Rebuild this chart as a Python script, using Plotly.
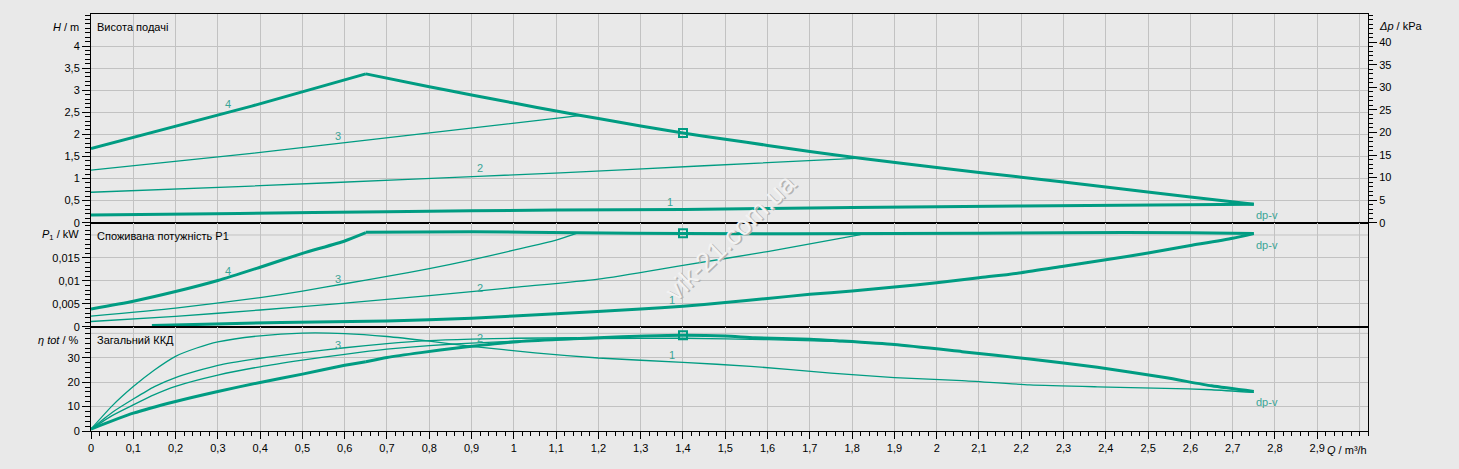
import plotly.graph_objects as go

# ---------------- data ----------------
# Top panel: head H [m] vs flow Q [m3/h]
Q_H1 = [0, 0.35, 0.7, 1.1, 1.4, 1.8, 2.2, 2.75]
H_1 = [0.175, 0.21, 0.25, 0.285, 0.30, 0.345, 0.38, 0.42]
Q_H2 = [0, 0.38, 0.75, 1.11, 1.45, 1.82]
H_2 = [0.69, 0.83, 0.98, 1.13, 1.29, 1.46]
Q_H3 = [0, 0.38, 0.77, 1.16]
H_3 = [1.19, 1.57, 2.0, 2.43]
Q_H4 = [0, 0.38, 0.65]
H_4 = [1.68, 2.64, 3.37]
Q_Hmax = [0.65, 0.8, 0.9, 1.0, 1.11, 1.2, 1.3, 1.4, 1.5, 1.6, 1.7, 1.82, 2.0, 2.2, 2.4, 2.6, 2.75]
H_max = [3.37, 3.08, 2.89, 2.71, 2.51, 2.36, 2.19, 2.03, 1.89, 1.75, 1.61, 1.46, 1.25, 1.03, 0.81, 0.58, 0.42]

# Middle panel: power input P1 [kW]
Q_P1 = [0.144, 0.45, 0.7, 0.9, 1.1, 1.3, 1.4, 1.5, 1.6, 1.7, 1.8, 1.9, 2.0, 2.1, 2.2, 2.3, 2.4, 2.5, 2.6, 2.7, 2.75]
P_1 = [0.0003, 0.0010, 0.0013, 0.0019, 0.0029, 0.0039, 0.0045, 0.0053, 0.0062, 0.0071, 0.0078, 0.0087, 0.0096,
       0.0107, 0.0118, 0.0132, 0.0146, 0.0161, 0.0177, 0.0193, 0.0203]
Q_P2 = [0, 0.2, 0.4, 0.6, 0.8, 1.0, 1.2, 1.4, 1.6, 1.82]
P_2 = [0.0012, 0.0023, 0.0037, 0.0052, 0.0068, 0.0086, 0.0104, 0.0134, 0.0164, 0.0201]
Q_P3 = [0, 0.2, 0.4, 0.5, 0.6, 0.7, 0.8, 0.9, 1.0, 1.1, 1.15]
P_3 = [0.00235, 0.0041, 0.0064, 0.0078, 0.0094, 0.0110, 0.0127, 0.0146, 0.0167, 0.0189, 0.0204]
Q_P4 = [0, 0.1, 0.2, 0.3, 0.4, 0.5, 0.6, 0.65]
P_4 = [0.0039, 0.0056, 0.0077, 0.0101, 0.0130, 0.0160, 0.0187, 0.0205]
Q_Pmax = [0.65, 0.9, 1.15, 1.4, 1.9, 2.3, 2.6, 2.75]
P_max = [0.0206, 0.0207, 0.0205, 0.0203, 0.0203, 0.0205, 0.0205, 0.0203]

# Bottom panel: total efficiency [%]
Q_E1 = [0, 0.05, 0.1, 0.15, 0.2, 0.25, 0.3, 0.4, 0.5, 0.6, 0.7, 0.8, 0.9, 1.05, 1.2, 1.4, 1.56, 1.75, 1.9,
        2.06, 2.22, 2.38, 2.54, 2.65, 2.75]
E_1 = [0.8, 10.3, 18.2, 25.0, 30.6, 34.0, 36.5, 39.0, 40.1, 39.9, 38.7, 36.8, 34.7, 32.0, 29.9, 28.1, 26.5,
       23.7, 21.9, 20.6, 18.9, 18.1, 17.5, 16.9, 15.8]
Q_E2 = [0, 0.05, 0.1, 0.15, 0.2, 0.3, 0.4, 0.5, 0.6, 0.7, 0.8, 0.9, 1.0, 1.2, 1.4, 1.6, 1.82]
E_2 = [0.8, 6.3, 10.7, 14.9, 18.3, 22.9, 26.3, 29.0, 31.4, 33.5, 35.0, 36.0, 36.8, 37.8, 38.0, 37.4, 36.4]
Q_E3 = [0, 0.05, 0.1, 0.15, 0.2, 0.3, 0.4, 0.5, 0.6, 0.7, 0.8, 0.9, 1.0, 1.15]
E_3 = [0.8, 7.6, 13.1, 18.2, 21.9, 26.9, 29.8, 32.1, 34.1, 35.8, 37.0, 37.6, 38.0, 38.2]
Q_E4 = [0, 0.1, 0.2, 0.3, 0.4, 0.5, 0.6, 0.65]
E_4 = [0.8, 7.3, 12.1, 16.2, 19.9, 23.3, 26.9, 28.4]
Q_Emax = [0.65, 0.7, 0.78, 0.87, 1.0, 1.11, 1.2, 1.31, 1.4, 1.5, 1.57, 1.7, 1.77, 1.9, 2.06, 2.22, 2.38,
          2.54, 2.65, 2.75]
E_max = [28.4, 30.1, 32.1, 34.1, 36.5, 37.6, 38.2, 38.9, 39.2, 38.9, 38.2, 37.6, 36.9, 35.4, 32.5, 29.5,
         26.1, 21.9, 18.5, 16.2]

# Duty point (square markers)
Q_duty = [1.4]
H_duty = [2.03]
P_duty = [0.0204]
E_duty = [39.2]

# Curve number labels: (Q, value, text)
LBL_H = [(0.323, 2.68, "4"), (0.584, 1.96, "3"), (0.92, 1.23, "2"), (1.369, 0.47, "1")]
LBL_P = [(0.324, 0.0121, "4"), (0.583, 0.0105, "3"), (0.921, 0.0085, "2"), (1.373, 0.0059, "1")]
LBL_E = [(0.583, 35.1, "3"), (0.92, 38.2, "2"), (1.373, 31.0, "1")]

# Tick values / labels
X_GRID = [round(0.1 * i, 1) for i in range(31)]          # grid lines 0 ... 3.0
X_TICKS = X_GRID[:-1]                                     # labelled ticks 0 ... 2.9
X_TEXT = [("%g" % v).replace(".", ",") for v in X_TICKS]
H_TICKS = [0, 0.5, 1, 1.5, 2, 2.5, 3, 3.5, 4]
H_TEXT = ["0", "0,5", "1", "1,5", "2", "2,5", "3", "3,5", "4"]
P_TICKS = [0, 0.005, 0.01, 0.015]
P_TEXT = ["0", "0,005", "0,01", "0,015"]
P_TOPGRID = 0.02
E_TICKS = [0, 10, 20, 30]
E_TEXT = ["0", "10", "20", "30"]
E_TOPGRID = 40
DP_TICKS = [0, 5, 10, 15, 20, 25, 30, 35, 40]

# ---------------- styling ----------------
TEAL = "#009c82"
LBLC = "#3ba596"
BG = "#e9e9e9"
GRID = "#c2c2c2"
FONT = "Arial, Liberation Sans, sans-serif"

fig = go.Figure()


def add_line(xs, ys, xa, ya, thick):
    fig.add_trace(go.Scatter(x=xs, y=ys, xaxis=xa, yaxis=ya, mode="lines",
                             line=dict(color=TEAL, width=3 if thick else 1.3, shape="spline",
                                       smoothing=0.6),
                             hoverinfo="skip", showlegend=False))


# top
add_line(Q_H1, H_1, "x", "y", True)
add_line(Q_H2, H_2, "x", "y", False)
add_line(Q_H3, H_3, "x", "y", False)
add_line(Q_H4, H_4, "x", "y", True)
add_line(Q_Hmax, H_max, "x", "y", True)
# middle
add_line(Q_P1, P_1, "x2", "y2", True)
add_line(Q_P2, P_2, "x2", "y2", False)
add_line(Q_P3, P_3, "x2", "y2", False)
add_line(Q_P4, P_4, "x2", "y2", True)
add_line(Q_Pmax, P_max, "x2", "y2", True)
# bottom
add_line(Q_E1, E_1, "x3", "y3", False)
add_line(Q_E2, E_2, "x3", "y3", False)
add_line(Q_E3, E_3, "x3", "y3", False)
add_line(Q_E4, E_4, "x3", "y3", True)
add_line(Q_Emax, E_max, "x3", "y3", True)

for xa, ya, yv in (("x", "y", H_duty), ("x2", "y2", P_duty), ("x3", "y3", E_duty)):
    fig.add_trace(go.Scatter(x=Q_duty, y=yv, xaxis=xa, yaxis=ya, mode="markers",
                             marker=dict(symbol="square-open", size=8, color=TEAL,
                                         line=dict(color=TEAL, width=2)),
                             hoverinfo="skip", showlegend=False))

# invisible trace so the right-hand pressure axis is drawn
fig.add_trace(go.Scatter(x=[0], y=[0], xaxis="x", yaxis="y4", mode="markers",
                         marker=dict(opacity=0), hoverinfo="skip", showlegend=False))

# extra grid lines at the (unlabelled) top / right tick positions
shapes = [
    dict(type="line", xref="x3", yref="y3 domain", x0=X_GRID[-1], x1=X_GRID[-1], y0=0, y1=1,
         line=dict(color=GRID, width=1), layer="below"),
    dict(type="line", xref="x2 domain", yref="y2", x0=0, x1=1, y0=P_TOPGRID, y1=P_TOPGRID,
         line=dict(color=GRID, width=1), layer="below"),
    dict(type="line", xref="x3 domain", yref="y3", x0=0, x1=1, y0=E_TOPGRID, y1=E_TOPGRID,
         line=dict(color=GRID, width=1), layer="below"),
]

ann = []
for lst, ya in ((LBL_H, "y"), (LBL_P, "y2"), (LBL_E, "y3")):
    for q, v, t in lst:
        ann.append(dict(x=q, y=v, xref=ya.replace("y", "x"), yref=ya, text=t, showarrow=False,
                        font=dict(size=11, color=LBLC, family=FONT)))

for ya, v in (("y", 0.17), ("y2", 0.0178), ("y3", 12.0)):
    ann.append(dict(x=2.75, y=v, xref=ya.replace("y", "x"), yref=ya, text="dp-v", showarrow=False,
                    xanchor="left", font=dict(size=11, color=LBLC, family=FONT)))

# panel captions
for ya, v, t in (("y", 4.44, "Висота подачі"), ("y2", 0.0198, "Споживана потужність P1"),
                 ("y3", 37.3, "Загальний ККД")):
    ann.append(dict(x=0, y=v, xref="paper", yref=ya, text=t, showarrow=False, xanchor="left",
                    xshift=4, font=dict(size=11, color="black", family=FONT)))

# axis titles
ann.append(dict(x=0, y=4.44, xref="paper", yref="y", text="<i>H</i> / m", showarrow=False,
                xanchor="right", xshift=-10, font=dict(size=11, color="black", family=FONT)))
ann.append(dict(x=0, y=0.02, xref="paper", yref="y2", text="<i>P</i><sub>1</sub> / kW", showarrow=False,
                xanchor="right", xshift=-10, font=dict(size=11, color="black", family=FONT)))
ann.append(dict(x=0, y=37.3, xref="paper", yref="y3", text="<i>η tot</i> / %", showarrow=False,
                xanchor="right", xshift=-10, font=dict(size=11, color="black", family=FONT)))
ann.append(dict(x=1, y=43.5, xref="paper", yref="y4", text="<i>Δp</i> / kPa", showarrow=False,
                xanchor="left", xshift=9, font=dict(size=11, color="black", family=FONT)))
ann.append(dict(x=1, y=0, xref="paper", yref="paper", text="<i>Q</i> / m³/h", showarrow=False,
                xanchor="right", yanchor="middle", yshift=-19, xshift=1,
                font=dict(size=11, color="black", family=FONT)))

# watermark (embossed look: darker shadow + light face)
ann.append(dict(x=0.5022, y=0.4625, xref="paper", yref="paper", text="vik-21.com.ua", showarrow=False,
                textangle=-44, font=dict(size=27, color="#b4b4b4", family=FONT)))
ann.append(dict(x=0.5010, y=0.4650, xref="paper", yref="paper", text="vik-21.com.ua", showarrow=False,
                textangle=-44, font=dict(size=27, color="#f2f2f2", family=FONT)))

tickfont = dict(size=11, color="black", family=FONT)
xcommon = dict(range=[0, 3.02], tickmode="array", showgrid=True, gridcolor=GRID,
               gridwidth=1, zeroline=False, showline=True, linecolor="black", linewidth=1, mirror=True,
               fixedrange=True)
ycommon = dict(tickmode="array", showgrid=True, gridcolor=GRID, gridwidth=1, zeroline=False,
               showline=True, linecolor="black", linewidth=1, mirror=True, ticks="outside", ticklen=8,
               tickcolor="black", tickfont=tickfont, fixedrange=True)

fig.update_layout(
    width=1459, height=469,
    margin=dict(l=91, r=91, t=14, b=38),
    paper_bgcolor=BG, plot_bgcolor=BG,
    font=dict(family=FONT, size=11, color="black"),
    showlegend=False,
    xaxis=dict(**xcommon, tickvals=X_GRID, anchor="y", showticklabels=False, ticks=""),
    xaxis2=dict(**xcommon, tickvals=X_GRID, anchor="y2", showticklabels=False, ticks="", matches="x"),
    xaxis3=dict(**xcommon, tickvals=X_TICKS, anchor="y3", ticktext=X_TEXT, ticks="outside", ticklen=7,
                tickcolor="black", tickfont=tickfont, matches="x",
                minor=dict(tickmode="linear", tick0=0, dtick=0.02, ticklen=4, ticks="outside",
                           tickcolor="black", showgrid=False)),
    yaxis=dict(**ycommon, anchor="x", domain=[0.4995, 1], range=[0, 4.725], tickvals=H_TICKS,
               ticktext=H_TEXT,
               minor=dict(tickmode="linear", tick0=0, dtick=0.1, ticklen=5, ticks="outside",
                          tickcolor="black", showgrid=False)),
    yaxis2=dict(**ycommon, anchor="x2", domain=[0.2494, 0.4995], range=[0, 0.02267],
                tickvals=P_TICKS, ticktext=P_TEXT,
                minor=dict(tickmode="linear", tick0=0, dtick=0.001, ticklen=5, ticks="outside",
                           tickcolor="black", showgrid=False)),
    yaxis3=dict(**ycommon, anchor="x3", domain=[0, 0.2494], range=[0, 42.6],
                tickvals=E_TICKS, ticktext=E_TEXT,
                minor=dict(tickmode="linear", tick0=0, dtick=2, ticklen=5, ticks="outside",
                           tickcolor="black", showgrid=False)),
    yaxis4=dict(overlaying="y", side="right", anchor="x", range=[0, 46.27], tickmode="array",
                tickvals=DP_TICKS, showgrid=False, zeroline=False, showline=True, linecolor="black",
                linewidth=1, ticks="outside", ticklen=8, tickcolor="black", tickfont=tickfont,
                fixedrange=True,
                minor=dict(tickmode="linear", tick0=0, dtick=1, ticklen=4, ticks="outside",
                           tickcolor="black", showgrid=False)),
    shapes=shapes,
    annotations=ann,
)

fig.write_html("out.html", config={"displayModeBar": False},
               post_script="document.body.style.margin='0';document.body.style.background='%s';" % BG)
